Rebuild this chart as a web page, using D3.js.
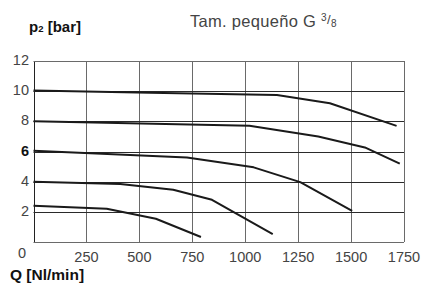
<!DOCTYPE html>
<html>
<head>
<meta charset="utf-8">
<script src="https://cdn.jsdelivr.net/npm/d3@7"></script>
<style>
  html, body { margin: 0; padding: 0; background: #fff; }
  svg { display: block; font-family: "Liberation Sans", Arial, sans-serif; }
</style>
</head>
<body>
<div id="chart"></div>
<script>
// flow in Nl/min, outlet pressure p2 in bar
const xTicks = [250, 500, 750, 1000, 1250, 1500, 1750];
const yTicks = [2, 4, 6, 8, 10, 12];

const curve10 = [[0, 10.05], [550, 9.9], [1150, 9.75], [1400, 9.2], [1715, 7.7]];
const curve8 = [[0, 8.0], [1020, 7.7], [1345, 7.0], [1565, 6.27], [1730, 5.2]];
const curve6 = [[0, 6.05], [725, 5.6], [1040, 4.95], [1260, 3.97], [1505, 2.07]];
const curve4 = [[0, 4.0], [410, 3.84], [660, 3.46], [843, 2.8], [1130, 0.53]];
const curve2 = [[0, 2.4], [346, 2.2], [578, 1.54], [791, 0.33]];
const curves = [curve10, curve8, curve6, curve4, curve2];

const width = 426, height = 286;
const margin = { top: 61, right: 22, bottom: 44, left: 33.5 };

const svg = d3.select('#chart')
  .append('svg')
  .attr('width', width)
  .attr('height', height);

const x = d3.scaleLinear()
  .domain([0, 1750])
  .range([margin.left, width - margin.right]);

const y = d3.scaleLinear()
  .domain([0, 12])
  .range([height - margin.bottom, margin.top]);

// grid: vertical lines lighter, horizontal darker
const grid = svg.append('g').attr('class', 'grid');

grid.selectAll('line.v')
  .data([0, ...xTicks])
  .join('line')
  .attr('class', 'v')
  .attr('x1', d => Math.round(x(d)) + 0.5)
  .attr('x2', d => Math.round(x(d)) + 0.5)
  .attr('y1', y(12))
  .attr('y2', y(0))
  .attr('stroke', d => d === 0 ? '#222' : '#6a6a6a')
  .attr('stroke-width', 1);

grid.selectAll('line.h')
  .data([0, ...yTicks])
  .join('line')
  .attr('class', 'h')
  .attr('x1', x(0))
  .attr('x2', x(1750))
  .attr('y1', d => Math.round(y(d)) + 0.5)
  .attr('y2', d => Math.round(y(d)) + 0.5)
  .attr('stroke', d => (d === 0 || d === 12) ? '#6a6a6a' : '#2a2a2a')
  .attr('stroke-width', 1);

// curves
const line = d3.line()
  .x(d => x(d[0]))
  .y(d => y(d[1]));

svg.append('g')
  .selectAll('path')
  .data(curves)
  .join('path')
  .attr('d', line)
  .attr('fill', 'none')
  .attr('stroke', '#1a1a1a')
  .attr('stroke-width', 2)
  .attr('stroke-linejoin', 'round');

// y tick labels
svg.append('g')
  .selectAll('text')
  .data(yTicks)
  .join('text')
  .attr('x', 29)
  .attr('y', d => y(d) + 4)
  .attr('text-anchor', 'end')
  .attr('font-size', 14.5)
  .attr('font-weight', d => d === 6 ? 'bold' : 'normal')
  .attr('fill', d => d === 6 ? '#111' : '#444')
  .text(d => d);

// x tick labels
svg.append('g')
  .selectAll('text')
  .data(xTicks)
  .join('text')
  .attr('x', d => x(d))
  .attr('y', 261.5)
  .attr('text-anchor', 'middle')
  .attr('font-size', 14.5)
  .attr('fill', '#444')
  .text(d => d);

// origin label
svg.append('text')
  .attr('x', 22)
  .attr('y', 258)
  .attr('text-anchor', 'middle')
  .attr('font-size', 14.5)
  .attr('fill', '#444')
  .text(0);

// axis titles
const yTitle = svg.append('text')
  .attr('x', 29)
  .attr('y', 31.5)
  .attr('font-size', 15)
  .attr('font-weight', 'bold')
  .attr('fill', '#111');
yTitle.append('tspan').text('p');
yTitle.append('tspan').attr('font-size', 9.5).text('2');
yTitle.append('tspan').text(' [bar]');

svg.append('text')
  .attr('x', 10)
  .attr('y', 280)
  .attr('font-size', 15.5)
  .attr('font-weight', 'bold')
  .attr('fill', '#111')
  .text('Q [Nl/min]');

// chart title
const title = svg.append('text')
  .attr('x', 190)
  .attr('y', 26.5)
  .attr('font-size', 16.5)
  .attr('letter-spacing', 0.3)
  .attr('fill', '#444');
title.append('tspan').text('Tam. pequeño G ');
title.append('tspan').attr('font-size', 10).attr('dy', -5.5).text('3');
title.append('tspan').attr('font-size', 13).attr('dy', 3).text('/');
title.append('tspan').attr('font-size', 10).attr('dy', 2.5).text('8');
</script>
</body>
</html>
